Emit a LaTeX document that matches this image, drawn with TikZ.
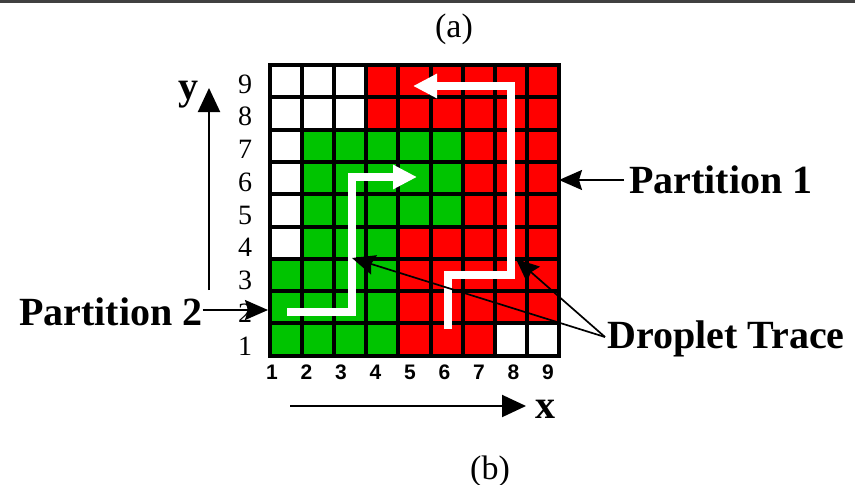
\documentclass[tikz,border=0pt]{standalone}
\usepackage{fontspec}
\setmainfont{Liberation Serif}
\newfontfamily\colfont{Liberation Sans}
\usetikzlibrary{arrows.meta}
\definecolor{cellred}{RGB}{255,0,0}
\definecolor{cellgreen}{RGB}{0,196,0}
\definecolor{topline}{RGB}{64,64,64}
\tikzset{
  cellw/.style={fill=white},
  cellr/.style={fill=cellred},
  cellg/.style={fill=cellgreen},
  gridline/.style={line width=4pt,black,line cap=rect},
  trace/.style={line width=8pt,white,line join=miter,-{Triangle[length=24pt,width=23pt]}},
  callout/.style={line width=1.7pt,black,-{Stealth[length=23pt,width=20pt,inset=3pt]}},
  axis/.style={line width=2pt,black,-{Triangle[length=24pt,width=22pt]}},
  biglabel/.style={inner sep=0pt,font=\fontsize{40}{41}\selectfont\bfseries},
  rowlab/.style={inner sep=0pt,font=\fontsize{28}{29}\selectfont},
  collab/.style={inner sep=0pt,font=\colfont\fontsize{21}{22}\selectfont\bfseries},
  caption/.style={inner sep=0pt,font=\fontsize{34}{35}\selectfont}
}
\begin{document}
\begin{tikzpicture}[x=1pt,y=-1pt]
\useasboundingbox (0,0) rectangle (855,485);
% top rule
\draw[line width=3pt,topline] (0,1.5) -- (855,1.5);
% captions
\node[caption,anchor=base] (capa) at (454,37) {(a)};
\node[caption,anchor=base] (capb) at (490,479) {(b)};
% cells
\foreach \r/\list in {
  9/{w,w,w,r,r,r,r,r,r},
  8/{w,w,w,r,r,r,r,r,r},
  7/{w,g,g,g,g,g,r,r,r},
  6/{w,g,g,g,g,g,r,r,r},
  5/{w,g,g,g,g,g,r,r,r},
  4/{w,g,g,g,r,r,r,r,r},
  3/{g,g,g,g,r,r,r,r,r},
  2/{g,g,g,g,r,r,r,r,r},
  1/{g,g,g,g,r,r,r,w,w}} {
  \foreach \c [count=\i] in \list {
    \fill[cell\c] ({269.5+32.2*(\i-1)},{65+32.3*(9-\r)}) rectangle +(32.2,32.3);
  }
}
% grid lines
\foreach \k in {0,...,9} {
  \draw[gridline] ({269.5+32.2*\k},65) -- ({269.5+32.2*\k},{65+32.3*9});
  \draw[gridline] (269.5,{65+32.3*\k}) -- ({269.5+32.2*9},{65+32.3*\k});
}
% row labels
\foreach \r in {1,...,9} {
  \node[rowlab] (row\r) at (245,{84+32.75*(9-\r)}) {\r};
}
% column labels
\foreach \c in {1,...,9} {
  \node[collab] (col\c) at ({272+34.5*(\c-1)},372) {\c};
}
% droplet traces
\coordinate (gs) at (287,311.5);
\coordinate (g1) at (352,311.5);
\coordinate (g2) at (352,177);
\coordinate (ge) at (417,177);
\draw[trace] (gs) -- (g1) -- (g2) -- (ge);
\coordinate (rs) at (447.5,329);
\coordinate (r1) at (447.5,275);
\coordinate (r2) at (511,275);
\coordinate (r3) at (511,86);
\coordinate (re) at (413,86);
\draw[trace] (rs) -- (r1) -- (r2) -- (r3) -- (re);
% axes
\coordinate (ybot) at (209,290);
\coordinate (ytop) at (209,88);
\draw[axis] (ybot) -- (ytop);
\node[biglabel,anchor=base] (ylab) at (188.5,99) {y};
\coordinate (xleft) at (290,406);
\coordinate (xright) at (526,406);
\draw[axis] (xleft) -- (xright);
\node[biglabel,anchor=base] (xlab) at (545,418) {x};
% partition labels
\node[biglabel,anchor=base west] (p1) at (629,193) {Partition 1};
\coordinate (p1tip) at (559,180);
\draw[callout] (p1.west |- p1tip) ++(-5,0) coordinate (p1from) -- (p1tip);
\node[biglabel,anchor=base west] (p2) at (19,325) {Partition 2};
\coordinate (p2tip) at (268,310);
\draw[callout] (p2.east |- p2tip) -- (p2tip);
\node[biglabel,anchor=base west] (dt) at (607,348) {Droplet Trace};
\coordinate (dtfrom) at (605,337);
\coordinate (dtip1) at (352,258);
\coordinate (dtip2) at (516,259);
\draw[callout] (dtfrom) -- (dtip1);
\draw[callout] (dtfrom) -- (dtip2);
\end{tikzpicture}
\end{document}
